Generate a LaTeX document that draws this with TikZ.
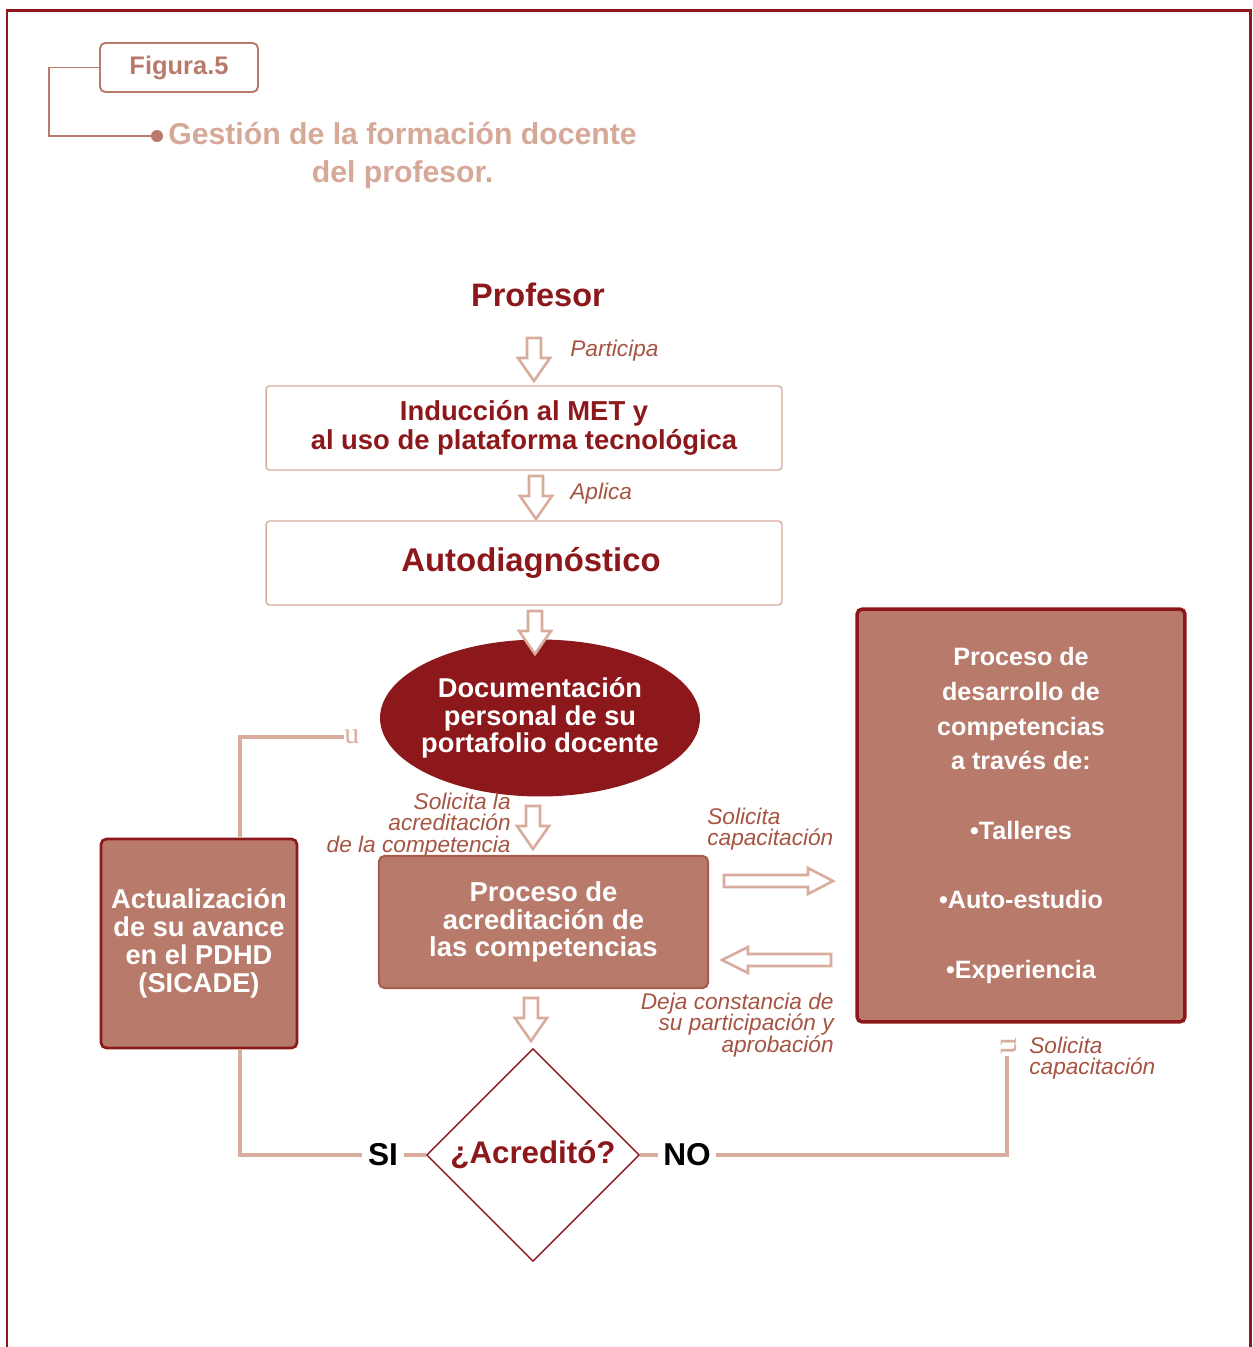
\documentclass[tikz,border=0pt]{standalone}
\usepackage{fontspec}
\setmainfont{Liberation Sans}
\newfontfamily\serifglyph{Liberation Serif}
\usetikzlibrary{shapes.geometric}

\definecolor{rojo}{RGB}{140,24,27}
\definecolor{teja}{RGB}{184,123,107}
\definecolor{rosa}{RGB}{217,173,157}
\definecolor{marron}{RGB}{166,84,66}
\definecolor{borde}{RGB}{168,92,76}
\definecolor{titulo}{RGB}{214,168,152}

\tikzset{
  flecha/.style={draw=rosa, line width=1.5pt, fill=white, line join=miter},
  linea/.style={draw=rosa, line width=2.8pt},
  caja/.style={draw=rosa, line width=0.8pt, rounded corners=2pt, minimum width=10.32cm, minimum height=1.68cm, align=center, text=rojo, font=\bfseries},
  cajallena/.style={fill=teja, rounded corners=3pt, align=center, text=white, font=\bfseries},
  etiqueta/.style={text=marron, font=\fontsize{12.9pt}{12.3pt}\selectfont\itshape, inner sep=0pt},
  pics/bajada/.style={code={
    \draw[flecha] (-7,0) -- (7,0) -- (7,20) -- (16,20) -- (0,43) -- (-16,20) -- (-7,20) -- cycle;
  }}
}

\begin{document}
\begin{tikzpicture}[x=0.02cm, y=-0.02cm]
\useasboundingbox (0,0) rectangle (1253,1347);
% marco
\draw[rojo, line width=1.7pt] (7,1347) -- (7,10) -- (1250,10) -- (1250,1347);

% encabezado
\node[draw=teja, line width=1.1pt, rounded corners=3pt, minimum width=3.16cm, minimum height=0.98cm, text=teja, font=\fontsize{14.5pt}{17pt}\selectfont\bfseries] (fig) at (179,67.5) {Figura.5};
\coordinate (punto) at (157,136);
\draw[teja, line width=1.1pt] (fig.west) -- ++(-50,0) |- (punto);
\fill[teja] (punto) circle (6);
\node[text=titulo, align=center, font=\fontsize{17.2pt}{22.1pt}\selectfont\bfseries] (tit) at (402.5,155.5) {Gestión de la formación docente\\del profesor.};

% flujo principal
\node[text=rojo, font=\fontsize{18.5pt}{22pt}\selectfont\bfseries] (prof) at (538,295) {Profesor};
\pic at (534,338) {bajada};
\node[etiqueta, anchor=west] (lpart) at (570,351) {Participa};
\node[caja, font=\fontsize{15.6pt}{16.4pt}\selectfont\bfseries] (induc) at (524,428) {Inducción al MET y\\al uso de plataforma tecnológica};
\pic at (536,476) {bajada};
\node[etiqueta, anchor=west] (lapl) at (570,494) {Aplica};
\node[caja, font=\fontsize{18.7pt}{22pt}\selectfont\bfseries] (auto) at (524,563) {\hspace*{8pt}Autodiagnóstico};
\node[ellipse, fill=rojo, inner xsep=-3.6pt, inner ysep=0pt, minimum width=6.4cm, minimum height=3.14cm, align=center, text=white, font=\fontsize{15.5pt}{15.6pt}\selectfont\bfseries] (docu) at (540,718) {Documentación\\personal de su\\portafolio docente};
\pic at (535,611) {bajada};
\pic at (533,806) {bajada};
\node[etiqueta, anchor=east, align=right] (lsolacr) at (511,825) {Solicita la\\acreditación\\de la competencia};
\node[cajallena, draw=borde, line width=1.2pt, minimum width=6.58cm, minimum height=2.64cm, font=\fontsize{15.6pt}{15.6pt}\selectfont\bfseries] (acred) at (543.5,922) {Proceso de\\acreditación de\\las competencias};
\pic at (531,998) {bajada};
\node[diamond, draw=rojo, line width=0.8pt, inner sep=0pt, minimum width=4.26cm, minimum height=4.26cm, text=rojo, font=\fontsize{17.8pt}{20pt}\selectfont\bfseries] (dec) at (533,1155) {¿Acreditó?};

% caja derecha
\node[cajallena, draw=rojo, line width=2pt, minimum width=6.56cm, minimum height=8.26cm, font=\fontsize{14.3pt}{19.8pt}\selectfont\bfseries] (desar) at (1021,815.5) {Proceso de\\desarrollo de\\competencias\\a través de:\\[19.8pt]•Talleres\\[19.8pt]•Auto-estudio\\[19.8pt]•Experiencia};
\node[etiqueta, anchor=west, align=left] (lsolcap) at (707,829) {Solicita\\capacitación};
\draw[flecha] (724,875) -- (808,875) -- (808,868) -- (833,881) -- (808,894) -- (808,887) -- (724,887) -- cycle;
\draw[flecha] (831,954) -- (748,954) -- (748,947) -- (722,960) -- (748,973) -- (748,966) -- (831,966) -- cycle;
\node[etiqueta, anchor=east, align=right] (ldeja) at (834,1025) {Deja constancia de\\su participación y\\aprobación};

% caja izquierda
\node[cajallena, draw=rojo, line width=1.5pt, minimum width=3.92cm, minimum height=4.18cm, font=\fontsize{15.5pt}{15.9pt}\selectfont\bfseries] (actual) at (199,943.5) {Actualización\\de su avance\\en el PDHD\\(SICADE)};

% retornos
\node[font=\fontsize{18pt}{20pt}\selectfont\bfseries, inner sep=3pt] (si) at (383,1155) {SI};
\node[font=\fontsize{18pt}{20pt}\selectfont\bfseries, inner sep=3pt] (no) at (687,1155) {NO};
\node[text=rosa, font=\serifglyph\fontsize{17pt}{17pt}\selectfont, inner sep=0pt, anchor=west] (g1) at (344,737) {u};
\node[text=rosa, font=\serifglyph\fontsize{19pt}{19pt}\selectfont, inner sep=0pt, rotate=90] (g2) at (1009,1046) {u};
\coordinate (c1) at (240,1155);
\coordinate (c2) at (1007,1155);
\coordinate (c3) at (1007,1056);
\draw[linea] (dec.west) -- (si.east);
\draw[linea] (si.west) -- (c1) -- (c1 |- actual.south);
\draw[linea] (c1 |- actual.north) |- (g1.west);
\draw[linea] (dec.east) -- (no.west);
\draw[linea] (no.east) -- (c2) -- (c3);
\node[etiqueta, anchor=west, align=left] (lsolcap2) at (1029,1058) {Solicita\\capacitación};
\end{tikzpicture}
\end{document}
